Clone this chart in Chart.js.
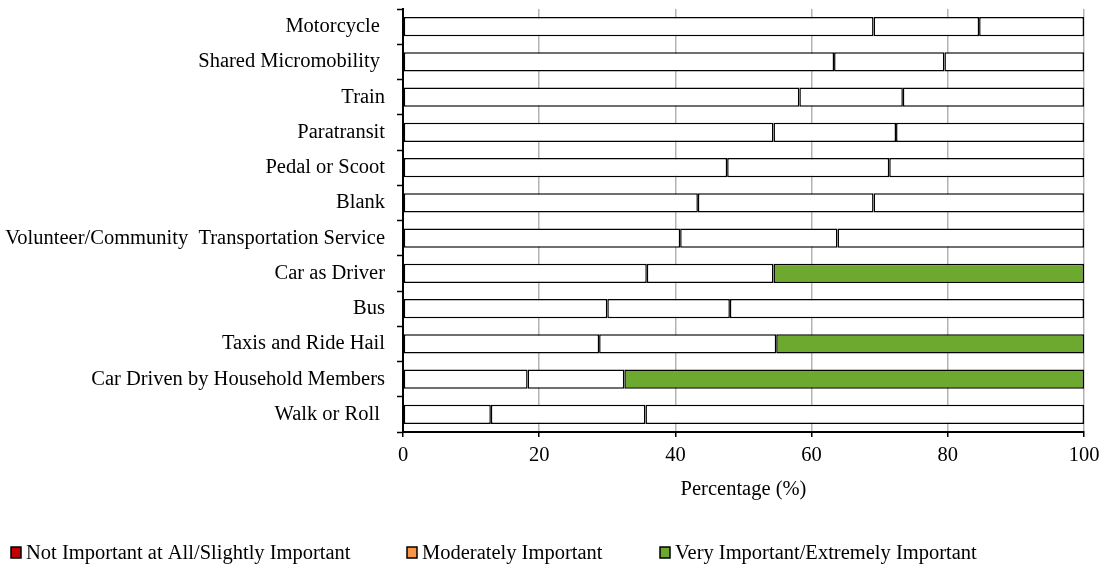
<!DOCTYPE html>
<html>
<head>
<meta charset="utf-8">
<script src="https://cdn.jsdelivr.net/npm/chart.js@4/dist/chart.umd.min.js"></script>
<style>
  html, body { margin: 0; padding: 0; background: #ffffff; }
  #wrap { position: relative; width: 1109px; height: 568px; }
</style>
</head>
<body>
<div id="wrap"><canvas id="c" width="1109" height="568"></canvas></div>
<script>
// ---- data ----
const categories = [
  "Motorcycle ",
  "Shared Micromobility ",
  "Train",
  "Paratransit",
  "Pedal or Scoot",
  "Blank",
  "Volunteer/Community  Transportation Service",
  "Car as Driver",
  "Bus",
  "Taxis and Ride Hail",
  "Car Driven by Household Members",
  "Walk or Roll "
];
const seriesNames = [
  "Not Important at All/Slightly Important",
  "Moderately Important",
  "Very Important/Extremely Important"
];
const notImportant = [69.1, 63.3, 58.2, 54.4, 47.6, 43.3, 40.7, 35.8, 30.0, 28.8, 18.3, 12.9];
const moderatelyImportant = [15.5, 16.2, 15.2, 18.0, 23.8, 25.8, 23.1, 18.6, 18.0, 26.0, 14.2, 22.7];
const veryImportant = [15.4, 20.5, 26.6, 27.6, 28.6, 30.9, 36.2, 45.6, 52.0, 45.2, 67.5, 64.4];
const xTicks = [0, 20, 40, 60, 80, 100];

// ---- styles ----
const FONT = "'Liberation Serif', 'Times New Roman', serif";
const legendColors = ["#c00000", "#f79646", "#6ea92f"];
const highlighted = ["Car as Driver", "Taxis and Ride Hail", "Car Driven by Household Members"];
const veryFill = categories.map(c => highlighted.includes(c) ? "#6ea92f" : "#ffffff");

const legendPlugin = {
  id: 'customLegend',
  afterDraw(chart) {
    const ctx = chart.ctx;
    const boxX = [11, 407, 660];
    ctx.save();
    ctx.font = "20.5px " + FONT;
    ctx.textBaseline = 'alphabetic';
    seriesNames.forEach((name, i) => {
      ctx.fillStyle = legendColors[i];
      ctx.fillRect(boxX[i], 547, 10, 11);
      ctx.strokeStyle = '#000';
      ctx.lineWidth = 1.5;
      ctx.strokeRect(boxX[i], 547, 10, 11);
      ctx.fillStyle = '#000';
      ctx.fillText(name, boxX[i] + 15, 559);
    });
    ctx.restore();
  }
};

const barCommon = {
  borderColor: '#000000',
  borderWidth: 1.5,
  borderSkipped: false,
  barPercentage: 0.54,
  categoryPercentage: 1.0
};

new Chart(document.getElementById('c'), {
  type: 'bar',
  data: {
    labels: categories,
    datasets: [
      Object.assign({ label: seriesNames[0], data: notImportant, backgroundColor: '#ffffff' }, barCommon),
      Object.assign({ label: seriesNames[1], data: moderatelyImportant, backgroundColor: '#ffffff' }, barCommon),
      Object.assign({ label: seriesNames[2], data: veryImportant, backgroundColor: veryFill }, barCommon)
    ]
  },
  options: {
    indexAxis: 'y',
    responsive: false,
    animation: false,
    layout: { padding: { top: 9, right: 25, left: 0, bottom: 0 } },
    plugins: {
      legend: { display: false },
      tooltip: { enabled: false }
    },
    scales: {
      x: {
        stacked: true,
        min: 0,
        max: 100,
        afterBuildTicks: s => { s.ticks = xTicks.map(v => ({ value: v })); },
        ticks: { font: { family: FONT, size: 20.5 }, color: '#000', padding: 6 },
        grid: { color: '#b3b3b3', lineWidth: 1.5, tickColor: '#000', tickLength: 5, tickWidth: 1.5 },
        border: { color: '#000', width: 2 },
        title: { display: true, text: 'Percentage (%)', font: { family: FONT, size: 20.5 }, color: '#000', padding: { top: 0, bottom: 66 } },
        afterFit: s => { s.height = 136; s.paddingLeft = 0; s.paddingRight = 0; }
      },
      y: {
        stacked: true,
        ticks: { font: { family: FONT, size: 20.5 }, color: '#000', padding: 12, autoSkip: false },
        grid: { display: true, drawOnChartArea: false, offset: true, tickColor: '#000', tickLength: 6, tickWidth: 1.5 },
        border: { color: '#000', width: 2 },
        afterFit: s => { s.width = 403; s.paddingTop = 0; s.paddingBottom = 0; }
      }
    }
  },
  plugins: [legendPlugin]
});
</script>
</body>
</html>
